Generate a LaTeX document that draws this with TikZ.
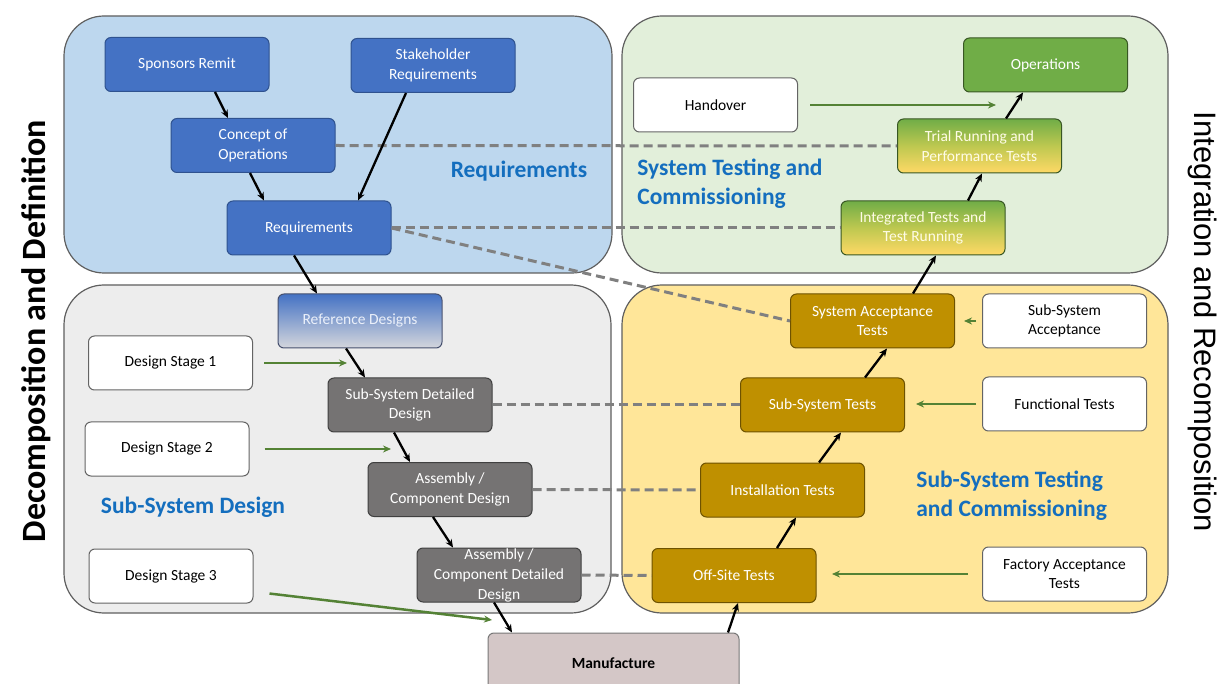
\documentclass[tikz,border=0pt]{standalone}
\usepackage{fontspec}
\setmainfont{Carlito}
\newfontfamily\sidefont{Liberation Sans}
\usetikzlibrary{arrows.meta}

\definecolor{reqfill}{RGB}{189,215,238}
\definecolor{stcfill}{RGB}{226,239,218}
\definecolor{ssdfill}{RGB}{237,237,237}
\definecolor{sstfill}{RGB}{255,230,153}
\definecolor{opblue}{RGB}{68,114,196}
\definecolor{opgold}{RGB}{191,144,0}
\definecolor{opgrey}{RGB}{117,115,115}
\definecolor{opgreen}{RGB}{112,173,71}
\definecolor{opyellow}{RGB}{255,217,102}
\definecolor{feedgreen}{RGB}{84,130,53}
\definecolor{linkgrey}{RGB}{128,128,128}
\definecolor{titleblue}{RGB}{20,110,190}
\definecolor{manufill}{RGB}{212,199,199}

\tikzset{every picture/.style={line width=0.75pt}}
\tikzset{
  panel/.style={draw={rgb,255:red,95;green,95;blue,95}, line width=1.2pt, rounded corners=40pt},
  paneltitle/.style={text=titleblue, font=\bfseries\fontsize{23.5}{29}\selectfont, inner sep=0pt},
  box/.style={rounded corners=6pt, minimum width=164pt, minimum height=54pt, inner sep=0pt,
    align=center, font=\fontsize{15.5}{19.5}\selectfont, line width=1pt},
  bluebox/.style={box, fill=opblue, draw={rgb,255:red,47;green,82;blue,143}, text=white},
  greybox/.style={box, fill=opgrey, draw={rgb,255:red,64;green,64;blue,64}, text=white},
  goldbox/.style={box, fill=opgold, draw={rgb,255:red,110;green,82;blue,0}, text=white},
  greenbox/.style={box, fill=opgreen, draw={rgb,255:red,56;green,87;blue,35}, text=white},
  mixbox/.style={box, top color=opgreen, bottom color=opyellow, middle color={rgb,255:red,190;green,200;blue,80},
    draw={rgb,255:red,56;green,87;blue,35}, text={rgb,255:red,255;green,252;blue,230}},
  refbox/.style={box, top color=opblue, bottom color={rgb,255:red,212;green,214;blue,220},
    draw={rgb,255:red,70;green,80;blue,110}, text={rgb,255:red,235;green,240;blue,250}},
  whitebox/.style={box, fill=white, draw={rgb,255:red,100;green,100;blue,100}, text=black},
  manubox/.style={box, minimum width=251pt, minimum height=60pt, fill=manufill,
    draw={rgb,255:red,120;green,120;blue,120}, text=black, font=\bfseries\fontsize{15.5}{19.5}\selectfont},
  flow/.style={draw=black, line width=2.3pt, -{Stealth[length=8pt,width=7pt]}},
  feed/.style={draw=feedgreen, line width=2.5pt, -{Stealth[length=8pt,width=7pt]}},
  link/.style={draw=linkgrey, line width=3pt, dash pattern=on 9pt off 5pt}
}

\begin{document}
\begin{tikzpicture}[x=1pt,y=1pt,yscale=-1,xscale=1]
\clip (0,0) rectangle (1221,684);
\fill [white] (0,0) rectangle (1221,684);

%Shape: Rounded Rect [panels]
\draw [panel, fill=reqfill] (64,16) rectangle (612,273);
\draw [panel, fill=stcfill] (622,16) rectangle (1168,273);
\draw [panel, fill=ssdfill] (64,285) rectangle (611,613);
\draw [panel, fill=sstfill] (622,285) rectangle (1168,613);

% Text Node
\draw (519,171) node [paneltitle] (ttlreq) {Requirements};
% Text Node
\draw (637,184) node [paneltitle, anchor=west, align=left] (ttlstc) {System Testing and\\Commissioning};
% Text Node
\draw (193,507) node [paneltitle] (ttlssd) {Sub-System Design};
% Text Node
\draw (916,496) node [paneltitle, anchor=west, align=left] (ttlsst) {Sub-System Testing\\and Commissioning};
% Text Node
\draw (36,331) node [rotate=90, font=\bfseries\fontsize{34}{38}\selectfont] (decomp) {Decomposition and Definition};
% Text Node
\draw (1203,322) node [rotate=-90, font=\sidefont\fontsize{31}{36}\selectfont] (integ) {Integration and Recomposition};

%Shape: Boxes, left leg
\draw (187,64.5) node [bluebox] (spon) {Sponsors Remit};
\draw (433,65.5) node [bluebox] (stak) {Stakeholder\\Requirements};
\draw (253,145.5) node [bluebox] (conc) {Concept of\\Operations};
\draw (309,228) node [bluebox] (reqs) {Requirements};
\draw (360,321) node [refbox] (refd) {Reference Designs};
\draw (410,405) node [greybox] (ssdd) {Sub-System Detailed\\Design};
\draw (450,489.5) node [greybox] (acd) {Assembly /\\Component Design};
\draw (499,575) node [greybox, font=\fontsize{15.5}{20}\selectfont] (acdd) {Assembly /\\Component Detailed\\Design};
\draw (613.5,663) node [manubox] (manu) {Manufacture};

%Shape: Boxes, right leg
\draw (734,575.5) node [goldbox] (offs) {Off-Site Tests};
\draw (782.5,490) node [goldbox] (inst) {Installation Tests};
\draw (822.5,405) node [goldbox] (sstt) {Sub-System Tests};
\draw (872.5,321) node [goldbox] (sats) {System Acceptance\\Tests};
\draw (923,228) node [mixbox] (intg) {Integrated Tests and\\Test Running};
\draw (979.5,146) node [mixbox] (tria) {Trial Running and\\Performance Tests};
\draw (1045.5,65) node [greenbox] (oper) {Operations};

%Shape: Boxes, inputs
\draw (715.5,105) node [whitebox] (hand) {Handover};
\draw (170.5,363) node [whitebox] (ds1) {Design Stage 1};
\draw (167,449) node [whitebox] (ds2) {Design Stage 2};
\draw (171,576) node [whitebox] (ds3) {Design Stage 3};
\draw (1064.5,321) node [whitebox] (ssa) {Sub-System\\Acceptance};
\draw (1064.5,404) node [whitebox] (func) {Functional Tests};
\draw (1064.5,574) node [whitebox] (fact) {Factory Acceptance\\Tests};

%Straight Lines [dashed links]
\draw [link] (conc.east) -- (tria.west);
\draw [link] (reqs.east) -- (intg.west);
\draw [link] (reqs.east) -- (sats.west);
\draw [link] (ssdd.east) -- (sstt.west);
\draw [link] (acd.east) -- (inst.west);
\draw [link] (acdd.east) -- (offs.west);

%Straight Lines [flow down]
\draw [flow] ([xshift=28pt]spon.south) -- ([xshift=-25pt]conc.north);
\draw [flow] ([xshift=-3pt]conc.south) -- ([xshift=-45pt]reqs.north);
\draw [flow] ([xshift=-27pt]stak.south) -- ([xshift=49pt]reqs.north);
\draw [flow] ([xshift=-15pt]reqs.south) -- ([xshift=-43pt]refd.north);
\draw [flow] ([xshift=-14pt]refd.south) -- ([xshift=-45pt]ssdd.north);
\draw [flow] ([xshift=-16pt]ssdd.south) -- ([xshift=-40pt]acd.north);
\draw [flow] ([xshift=-17pt]acd.south) -- ([xshift=-46pt]acdd.north);
\draw [flow] ([xshift=-5pt]acdd.south) -- ([xshift=-101.5pt]manu.north);

%Straight Lines [flow up]
\draw [flow] ([xshift=114.5pt]manu.north) -- ([xshift=4pt]offs.south);
\draw [flow] ([xshift=43pt]offs.north) -- ([xshift=13.5pt]inst.south);
\draw [flow] ([xshift=36.5pt]inst.north) -- ([xshift=18.5pt]sstt.south);
\draw [flow] ([xshift=42.5pt]sstt.north) -- ([xshift=14.5pt]sats.south);
\draw [flow] ([xshift=40.5pt]sats.north) -- ([xshift=13pt]intg.south);
\draw [flow] ([xshift=45pt]intg.north) -- ([xshift=2.5pt]tria.south);
\draw [flow] ([xshift=26.5pt]tria.north) -- ([xshift=-22.5pt]oper.south);

%Straight Lines [inputs]
\coordinate (handtip) at (996,105);
\coordinate (ds1tip) at (347,363);
\coordinate (ds2tip) at (391,449);
\coordinate (ds3tip) at (492,620);
\coordinate (ssatip) at (964,321);
\coordinate (functip) at (916,404);
\coordinate (facttip) at (832,574);
\draw [feed] ([xshift=12pt]hand.east) -- (handtip);
\draw [feed] ([xshift=11pt]ds1.east) -- (ds1tip);
\draw [feed] ([xshift=15pt]ds2.east) -- (ds2tip);
\draw [feed] ([xshift=16pt]ds3.-12) -- (ds3tip);
\draw [feed] ([xshift=-6pt]ssa.west) -- (ssatip);
\draw [feed] ([xshift=-6pt]func.west) -- (functip);
\draw [feed] ([xshift=-14pt]fact.west) -- (facttip);

\end{tikzpicture}
\end{document}
